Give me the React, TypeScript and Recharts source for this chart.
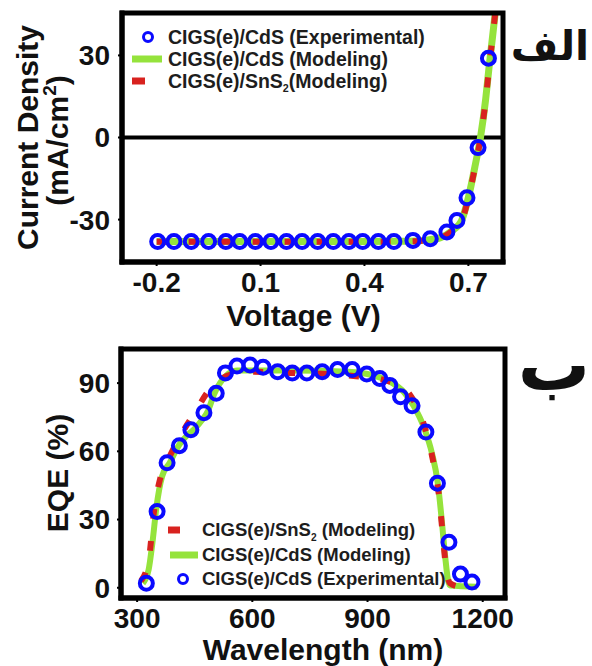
import { ComposedChart, Line, Scatter, XAxis, YAxis, ReferenceLine, Legend } from 'recharts';

const FONT = '"Liberation Sans", Arial, sans-serif';
const BLUE = '#0a0aff';
const GREEN = '#95e33c';
const RED = '#d8221f';
const INK = '#111111';
const CHART_W = 592;

// J-V panel
const jvExpV = [-0.197, -0.15, -0.1, -0.05, 0, 0.04, 0.085, 0.13, 0.175, 0.22, 0.265, 0.31, 0.355, 0.395, 0.44, 0.485, 0.54, 0.59, 0.638, 0.667, 0.696, 0.728, 0.758];
const jvExpJ = [-38, -38, -38, -38, -38, -38, -38, -38, -38, -38, -38, -38, -38, -38, -38, -38, -37.6, -37, -34.5, -30.3, -22, -3.7, 29];
const jvCdsV = [-0.2, 0, 0.2, 0.4, 0.5, 0.55, 0.58, 0.62, 0.65, 0.68, 0.7, 0.72, 0.735, 0.75, 0.76, 0.77, 0.778];
const jvCdsJ = [-38, -38, -38, -38, -37.9, -37.8, -37.5, -36.6, -34.3, -30.5, -22, -10, 0, 14, 26, 37, 46];
const jvSnsV = [-0.2, 0, 0.2, 0.4, 0.5, 0.55, 0.58, 0.62, 0.65, 0.68, 0.7, 0.72, 0.735, 0.75, 0.76, 0.77, 0.778];
const jvSnsJ = [-38.1, -38.1, -38.1, -38.1, -38, -37.9, -37.6, -36.7, -34.5, -30.6, -22.2, -10.3, -0.3, 13.7, 25.7, 36.8, 45.8];
const jvTicksX = [-0.2, 0.1, 0.4, 0.7];
const jvTicksY = [-30, 0, 30];
const jvDomainX: [number, number] = [-0.3, 0.8];
const jvDomainY: [number, number] = [-45.5, 45.5];

// EQE panel
const eqeExpWl = [324, 352, 378, 410, 440, 474, 506, 530, 560, 594, 628, 666, 704, 742, 782, 822, 860, 898, 932, 958, 986, 1016, 1052, 1082, 1112, 1142, 1172];
const eqeExpVal = [2, 33.5, 55, 62.5, 69.5, 77, 85.5, 94.5, 97.5, 98, 97, 95, 94.4, 94.4, 95, 96, 96, 94, 92, 89, 84, 80, 68.5, 46, 20, 6, 2.5];
const eqeCdsWl = [315, 330, 340, 350, 365, 385, 410, 430, 450, 470, 485, 500, 530, 560, 700, 850, 900, 960, 995, 1020, 1048, 1068, 1083, 1092, 1102, 1110, 1115, 1185];
const eqeCdsVal = [2, 8, 20, 35, 49, 55, 63, 67, 70, 74, 78, 85, 93, 95.5, 95.5, 95, 94, 90.5, 86, 80, 70, 59, 46, 32, 14, 3, 1, 0.5];
const eqeSnsWl = [310, 330, 345, 360, 380, 410, 450, 490, 520, 550, 600, 700, 800, 870, 940, 980, 1010, 1040, 1060, 1075, 1085, 1095, 1105, 1115, 1140, 1180];
const eqeSnsVal = [3, 12, 35, 48, 56, 66, 77, 87.5, 92, 94, 95, 94.5, 94, 93, 91.5, 89, 85, 75, 64, 52, 42, 25, 8, 2, 0.5, 0];
const eqeTicksX = [300, 600, 900, 1200];
const eqeTicksY = [0, 30, 60, 90];
const eqeDomainX: [number, number] = [258, 1258];
const eqeDomainY: [number, number] = [-4.5, 105];

const toPoints = (xs: number[], ys: number[]) => xs.map((x, i) => ({ x, y: ys[i] }));

const tickStyle = { fill: INK, fontSize: 28, fontWeight: 700, fontFamily: FONT };
const boxLine = { stroke: '#000', strokeWidth: 5, strokeLinecap: 'square' as const };
const tickLine = { stroke: '#000', strokeWidth: 2 };
const axisTitle = { fill: INK, fontSize: 30, fontWeight: 700, fontFamily: FONT };

// panel layout (shared by the chart and the frame overlay)
const Y_AXIS_W = 40;
const jvLayout = { top: 0, height: 335, xAxisH: 73, margin: { top: 13, right: 89, bottom: 0, left: 82 } };
const eqeLayout = { top: 335, height: 331, xAxisH: 68, margin: { top: 14, right: 87, bottom: 0, left: 81 } };

function frameRect(l: typeof jvLayout) {
  const x = l.margin.left + Y_AXIS_W;
  const y = l.top + l.margin.top;
  return { x, y, width: CHART_W - l.margin.right - x, height: l.height - l.xAxisH - l.margin.bottom - l.margin.top };
}

function OpenCircle(props: any) {
  const { cx, cy } = props;
  if (cx == null || cy == null) return null;
  return <circle cx={cx} cy={cy} r={6.5} fill="none" stroke={BLUE} strokeWidth={4} />;
}

const Sub2 = () => (
  <span style={{ fontSize: '0.55em', position: 'relative', top: '0.45em' }}>2</span>
);

type Kind = 'circle' | 'line' | 'dash';
interface IconGeom { width: number; circleX: number; line: [number, number]; dash: [number, number] }

function SeriesLegend({ rows, fontSize, rowHeights, icon }: {
  rows: Array<{ kind: Kind; label: React.ReactNode }>;
  fontSize: number;
  rowHeights: number[];
  icon: IconGeom;
}) {
  return (
    <div style={{ fontFamily: FONT, fontWeight: 700, fontSize, color: '#1d1d1d' }}>
      {rows.map((r, i) => {
        const h = rowHeights[i];
        return (
          <div key={i} style={{ display: 'flex', alignItems: 'center', height: h, whiteSpace: 'nowrap' }}>
            <svg width={icon.width} height={h} style={{ flex: 'none' }}>
              {r.kind === 'circle' && (
                <circle cx={icon.circleX} cy={h / 2} r={4.5} fill="none" stroke={BLUE} strokeWidth={3} />
              )}
              {r.kind === 'line' && (
                <line x1={icon.line[0]} x2={icon.line[1]} y1={h / 2} y2={h / 2} stroke={GREEN} strokeWidth={7} />
              )}
              {r.kind === 'dash' && (
                <line x1={icon.dash[0]} x2={icon.dash[1]} y1={h / 2} y2={h / 2} stroke={RED} strokeWidth={7} />
              )}
            </svg>
            <span>{r.label}</span>
          </div>
        );
      })}
    </div>
  );
}

const jvLegendRows = [
  { kind: 'circle' as Kind, label: 'CIGS(e)/CdS (Experimental)' },
  { kind: 'line' as Kind, label: 'CIGS(e)/CdS (Modeling)' },
  { kind: 'dash' as Kind, label: <>CIGS(e)/SnS<Sub2 />(Modeling)</> },
];
const eqeLegendRows = [
  { kind: 'dash' as Kind, label: <>CIGS(e)/SnS<Sub2 /> (Modeling)</> },
  { kind: 'line' as Kind, label: 'CIGS(e)/CdS (Modeling)' },
  { kind: 'circle' as Kind, label: 'CIGS(e)/CdS (Experimental)' },
];

function JVChart() {
  return (
    <ComposedChart width={CHART_W} height={jvLayout.height} margin={jvLayout.margin}>
      <XAxis
        type="number"
        dataKey="x"
        domain={jvDomainX}
        ticks={jvTicksX}
        allowDataOverflow
        height={jvLayout.xAxisH}
        tickSize={4}
        tickMargin={6}
        tick={tickStyle}
        tickLine={tickLine}
        axisLine={boxLine}
        label={({ viewBox }: any) => (
          <text x={viewBox.x + viewBox.width / 2 - 9} y={viewBox.y + 64} textAnchor="middle" {...axisTitle}>
            Voltage (V)
          </text>
        )}
      />
      <YAxis
        type="number"
        domain={jvDomainY}
        ticks={jvTicksY}
        allowDataOverflow
        width={Y_AXIS_W}
        tickSize={4}
        tickMargin={8}
        tick={tickStyle}
        tickLine={tickLine}
        axisLine={boxLine}
        label={({ viewBox }: any) => {
          const cy = viewBox.y + viewBox.height / 2;
          return (
            <g>
              <text transform={`translate(38, ${cy}) rotate(-90)`} textAnchor="middle" {...axisTitle}>
                Current Density
              </text>
              <text transform={`translate(68, ${cy + 3}) rotate(-90)`} textAnchor="middle" {...axisTitle}>
                (mA/cm<tspan fontSize={19} dy={-12}>2</tspan><tspan dy={12}>)</tspan>
              </text>
            </g>
          );
        }}
      />
      <ReferenceLine y={0} stroke="#000" strokeWidth={4} />
      <Scatter name="exp" data={toPoints(jvExpV, jvExpJ)} dataKey="y" shape={OpenCircle} isAnimationActive={false} />
      <Line data={toPoints(jvCdsV, jvCdsJ)} dataKey="y" type="monotone" stroke={GREEN} strokeWidth={7} dot={false} isAnimationActive={false} />
      <Line data={toPoints(jvSnsV, jvSnsJ)} dataKey="y" type="monotone" stroke={RED} strokeWidth={6} strokeDasharray="10 22" dot={false} isAnimationActive={false} />
      <Legend
        layout="vertical"
        align="center"
        verticalAlign="middle"
        wrapperStyle={{ left: 128, top: 26, width: 'auto' }}
        content={() => (
          <SeriesLegend rows={jvLegendRows} fontSize={19.5} rowHeights={[22, 22, 22]} icon={{ width: 40, circleX: 20, line: [4, 34], dash: [4, 17] }} />
        )}
      />
    </ComposedChart>
  );
}

function EQEChart() {
  return (
    <ComposedChart width={CHART_W} height={eqeLayout.height} margin={eqeLayout.margin}>
      <XAxis
        type="number"
        dataKey="x"
        domain={eqeDomainX}
        ticks={eqeTicksX}
        allowDataOverflow
        height={eqeLayout.xAxisH}
        tickSize={4}
        tickMargin={6}
        tick={tickStyle}
        tickLine={tickLine}
        axisLine={boxLine}
        label={({ viewBox }: any) => (
          <text x={viewBox.x + viewBox.width / 2 + 10} y={viewBox.y + 62} textAnchor="middle" {...axisTitle}>
            Wavelength (nm)
          </text>
        )}
      />
      <YAxis
        type="number"
        domain={eqeDomainY}
        ticks={eqeTicksY}
        allowDataOverflow
        width={Y_AXIS_W}
        tickSize={4}
        tickMargin={7}
        tick={tickStyle}
        tickLine={tickLine}
        axisLine={boxLine}
        label={({ viewBox }: any) => (
          <text transform={`translate(68, ${viewBox.y + 124}) rotate(-90)`} textAnchor="middle" {...axisTitle}>
            EQE (%)
          </text>
        )}
      />
      <Scatter name="exp" data={toPoints(eqeExpWl, eqeExpVal)} dataKey="y" shape={OpenCircle} isAnimationActive={false} />
      <Line data={toPoints(eqeCdsWl, eqeCdsVal)} dataKey="y" type="monotone" stroke={GREEN} strokeWidth={6} dot={false} isAnimationActive={false} />
      <Line data={toPoints(eqeSnsWl, eqeSnsVal)} dataKey="y" type="monotone" stroke={RED} strokeWidth={6} strokeDasharray="10 22" dot={false} isAnimationActive={false} />
      <Legend
        layout="vertical"
        align="center"
        verticalAlign="middle"
        wrapperStyle={{ left: 164, top: 182, width: 'auto' }}
        content={() => (
          <SeriesLegend rows={eqeLegendRows} fontSize={18.5} rowHeights={[26, 24, 24]} icon={{ width: 38, circleX: 19, line: [6, 34], dash: [4, 16] }} />
        )}
      />
    </ComposedChart>
  );
}

export default function App() {
  const jvBox = frameRect(jvLayout);
  const eqeBox = frameRect(eqeLayout);
  return (
    <div style={{ position: 'absolute', left: 0, top: 0, width: 592, height: 666, background: '#fff' }}>
      <div style={{ position: 'absolute', left: 0, top: jvLayout.top }}>
        <JVChart />
      </div>
      <div style={{ position: 'absolute', left: 0, top: eqeLayout.top }}>
        <EQEChart />
      </div>
      <svg width={592} height={666} style={{ position: 'absolute', left: 0, top: 0, pointerEvents: 'none' }}>
        {/* plot frames */}
        <rect {...jvBox} fill="none" stroke="#000" strokeWidth={5} />
        <rect {...eqeBox} fill="none" stroke="#000" strokeWidth={5} />
        <text x={550} y={60} textAnchor="middle" fontFamily='"DejaVu Sans", sans-serif' fontWeight={700} fontSize={41} fill={INK}>
          الف
        </text>
        <text x={554} y={390} textAnchor="middle" fontFamily='"DejaVu Sans", sans-serif' fontWeight={700} fontSize={72} fill={INK}>
          ب
        </text>
      </svg>
    </div>
  );
}
